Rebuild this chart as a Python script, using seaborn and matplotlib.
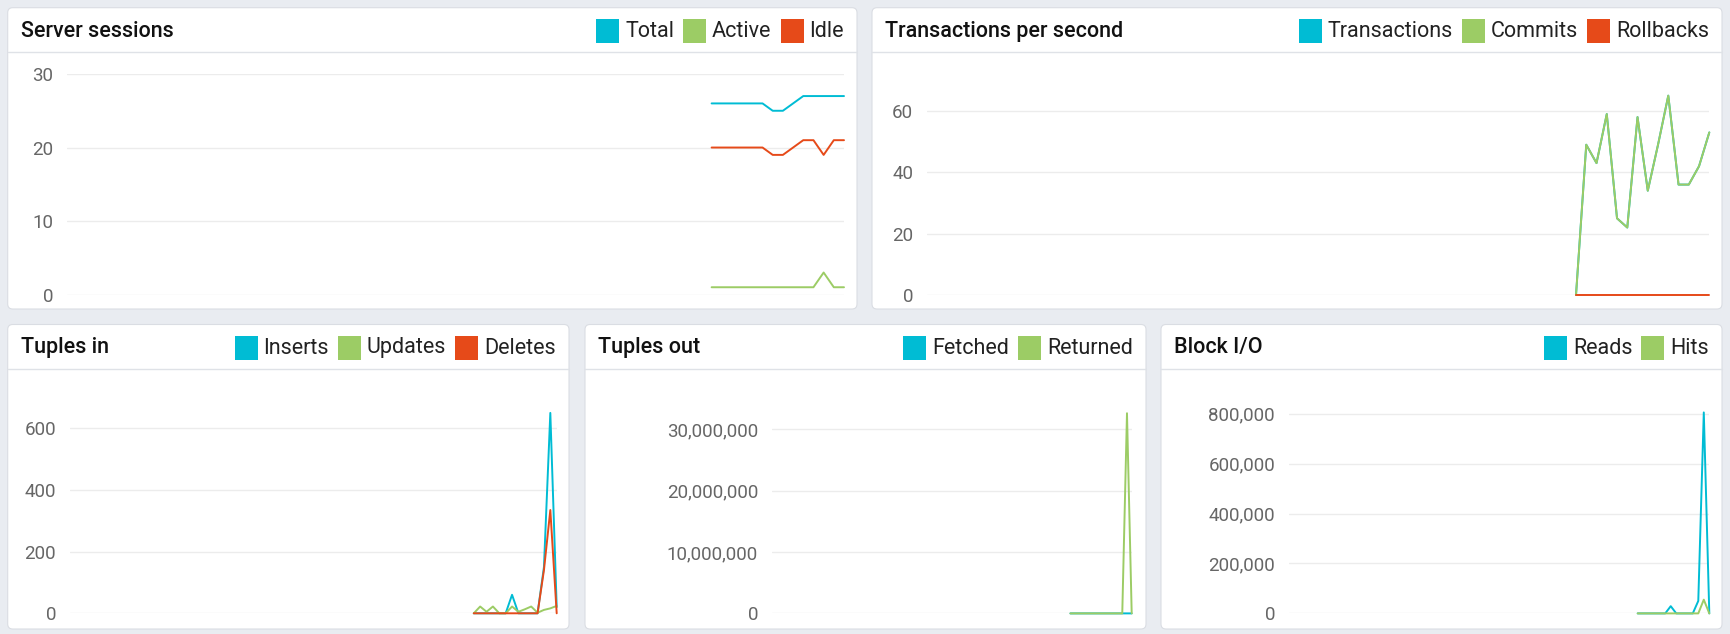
import numpy as np
import pandas as pd
import seaborn as sns
import matplotlib
matplotlib.use('Agg')
import matplotlib.pyplot as plt
from matplotlib.patches import FancyBboxPatch, Rectangle
from matplotlib.lines import Line2D
from matplotlib.transforms import Affine2D
from matplotlib.ticker import FuncFormatter

# last 14 samples of each dashboard graph (older samples are still empty)
session_total = [26, 26, 26, 26, 26, 26, 25, 25, 26, 27, 27, 27, 27, 27]
session_active = [1, 1, 1, 1, 1, 1, 1, 1, 1, 1, 1, 3, 1, 1]
session_idle = [20, 20, 20, 20, 20, 20, 19, 19, 20, 21, 21, 19, 21, 21]

tps_transactions = [0, 49, 43, 59, 25, 22, 58, 34, 49, 65, 36, 36, 42, 53]
tps_commits = [0, 49, 43, 59, 25, 22, 58, 34, 49, 65, 36, 36, 42, 53]
tps_rollbacks = [0, 0, 0, 0, 0, 0, 0, 0, 0, 0, 0, 0, 0, 0]

tuples_inserts = [0, 0, 0, 0, 0, 0, 60, 0, 0, 0, 0, 150, 650, 20]
tuples_updates = [0, 22, 5, 22, 0, 0, 22, 5, 13, 22, 2, 11, 16, 24]
tuples_deletes = [0, 0, 0, 0, 0, 0, 0, 0, 0, 0, 0, 140, 335, 0]

tuples_fetched = [0, 120, 40, 130, 0, 0, 150, 30, 60, 140, 20, 900, 2400, 80]
tuples_returned = [0, 0, 0, 0, 0, 0, 0, 0, 0, 0, 0, 0, 32600000, 0]

block_reads = [0, 0, 0, 0, 0, 0, 29000, 0, 0, 0, 0, 50000, 805000, 0]
block_hits = [0, 0, 0, 0, 0, 0, 0, 0, 0, 0, 0, 0, 55000, 0]

CYAN, GREEN, RED = '#00BCD4', '#9CCC65', '#E64A19'
W, H = 1730, 634
AXIS_LEN = 76.3

sns.set_style('white')
plt.rcParams['font.family'] = ['Roboto', 'DejaVu Sans']

fig = plt.figure(figsize=(W / 100, H / 100), dpi=100)
fig.patch.set_facecolor('#e9ecf1')
px = Affine2D().scale(1, -1).translate(0, H)
renderer = fig.canvas.get_renderer()


def draw_panel(box, title, names, series, colors, ax_box, ylim, yticks):
    x0, y0, x1, y1 = box
    fig.add_artist(FancyBboxPatch((x0, y0), x1 - x0, y1 - y0,
                                  boxstyle='round,pad=0,rounding_size=5',
                                  fc='white', ec='#dadde3', lw=0.8, transform=px, zorder=-2))
    fig.add_artist(Line2D([x0, x1], [y0 + 44, y0 + 44], color='#dfe2e7', lw=1,
                          transform=px, zorder=-1))
    yc = y0 + 23.5
    fig.text(x0 + 13, yc, title, transform=px, fontsize=15.5, fontweight='medium',
             color='#111111', va='center', ha='left')

    # legend, laid out from the right edge
    x = x1 - 13
    for name, col in reversed(list(zip(names, colors))):
        t = fig.text(x, yc, name, transform=px, fontsize=15.5, color='#222222',
                     va='center', ha='right')
        w = t.get_window_extent(renderer).width
        sq_right = x - w - 6
        fig.add_artist(Rectangle((sq_right - 23, yc - 12), 23, 24, fc=col, ec='none',
                                 transform=px))
        x = sq_right - 23 - 9

    left, top, right, bottom = ax_box
    ax = fig.add_axes([left / W, 1 - bottom / H, (right - left) / W, (bottom - top) / H])
    ax.set_zorder(5)
    ax.set_facecolor('none')
    n = len(series[0])
    df = pd.DataFrame({
        'x': np.tile(np.arange(n), len(names)),
        'value': np.concatenate([np.asarray(s, dtype=float) for s in series]),
        'series': np.repeat(names, n),
    })
    sns.lineplot(data=df, x='x', y='value', hue='series', hue_order=names,
                 palette=colors, errorbar=None, legend=False, lw=1.4, ax=ax, clip_on=False)
    ax.set_xlim(n - 1 - AXIS_LEN, n - 1)
    ax.set_ylim(*ylim)
    ax.set_yticks(yticks)
    ax.yaxis.set_major_formatter(FuncFormatter(lambda v, p: f'{v:,.0f}'))
    ax.set_xticks([])
    ax.set_xlabel('')
    ax.set_ylabel('')
    ax.grid(axis='y', color='#ececec', lw=1)
    ax.set_axisbelow(True)
    for s in ax.spines.values():
        s.set_visible(False)
    ax.tick_params(axis='y', direction='in', length=9, width=1, color='#dcdcdc',
                   pad=10, labelsize=13.5, labelcolor='#666666')
    return ax


draw_panel((7.7, 7.7, 857, 309), 'Server sessions', ['Total', 'Active', 'Idle'],
           [session_total, session_active, session_idle], [CYAN, GREEN, RED],
           (67, 74, 844, 294.6), (0, 30), [0, 10, 20, 30])

draw_panel((872, 7.7, 1722, 309), 'Transactions per second',
           ['Transactions', 'Commits', 'Rollbacks'],
           [tps_transactions, tps_commits, tps_rollbacks], [CYAN, GREEN, RED],
           (927, 80.3, 1709.3, 295), (0, 70), [0, 20, 40, 60])

draw_panel((7.7, 324.5, 569, 629), 'Tuples in', ['Inserts', 'Updates', 'Deletes'],
           [tuples_inserts, tuples_updates, tuples_deletes], [CYAN, GREEN, RED],
           (70, 397.5, 556.7, 613.3), (0, 700), [0, 200, 400, 600])

draw_panel((585, 324.5, 1146, 629), 'Tuples out', ['Fetched', 'Returned'],
           [tuples_fetched, tuples_returned], [CYAN, GREEN],
           (772, 398.5, 1131.7, 613.4), (0, 35000000), [0, 10000000, 20000000, 30000000])

draw_panel((1161, 324.5, 1722, 629), 'Block I/O', ['Reads', 'Hits'],
           [block_reads, block_hits], [CYAN, GREEN],
           (1289, 398.7, 1709.3, 613.4), (0, 860000), [0, 200000, 400000, 600000, 800000])

fig.savefig('out.png', dpi=100, facecolor=fig.get_facecolor())
